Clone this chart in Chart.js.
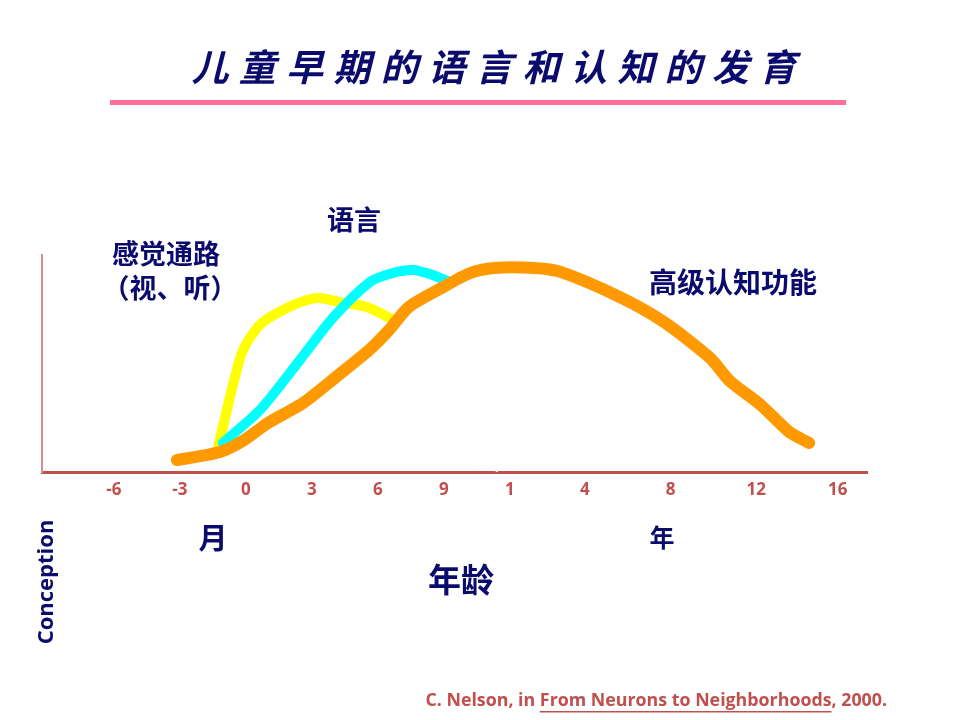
<!DOCTYPE html>
<html>
<head>
<meta charset="utf-8">
<script src="https://cdn.jsdelivr.net/npm/chart.js@4/dist/chart.umd.min.js"></script>
<style>
  html, body { margin: 0; padding: 0; background: #fff; }
  #wrap { width: 960px; height: 720px; }
</style>
</head>
<body>
<div id="wrap"><canvas id="devChart" width="960" height="720"></canvas></div>
<script>
// Axis: months before/after birth, then years (axis is compressed after 1 year)
const tickLabels = ["-6", "-3", "0", "3", "6", "9", "1", "4", "8", "12", "16"];
const tickPos = [-6, -3, 0, 3, 6, 9, 12, 15.4, 19.3, 23.2, 26.9];

// 感觉通路 (sensory pathways)
const sensoryAge = [-1.27, -0.27, 0.18, 0.77, 1.86, 2.77, 3.36, 4.27, 5.5, 6.55];
const sensoryLevel = [11.5, 52.5, 61.8, 69.1, 75.6, 79.3, 80.2, 78.3, 76.0, 71.0];

// 语言 (language)
const languageAge = [-1.05, 0.64, 2.45, 3.95, 5.64, 6.68, 7.59, 8.36, 9.27];
const languageLevel = [13.4, 28.6, 51.6, 71.0, 87.6, 91.7, 93.1, 91.2, 87.6];

// 高级认知功能 (higher cognitive function)
const cognitionAge = [-3.14, -1.18, -0.14, 1.0, 2.6, 4.1, 5.6, 6.5, 7.4, 8.8, 10.2, 11.3, 13.1, 14.3, 17.0, 19.0, 21.1, 22.0, 23.4, 24.7, 25.6];
const cognitionLevel = [5.5, 9.2, 14.3, 22.6, 31.8, 43.8, 56.2, 65.4, 76.0, 84.3, 91.7, 94.0, 94.0, 92.2, 80.6, 69.1, 52.5, 41.9, 30.9, 18.4, 13.4];

const NAVY = "#0b0b6e";
const RED = "#C0504D";

function zip(xs, ys) {
  return xs.map((x, i) => ({ x: x, y: ys[i] }));
}

// Text, title bar and notes drawn around the plot
const decorations = {
  id: "decorations",
  afterDraw(chart) {
    const ctx = chart.ctx;
    ctx.save();

    // title, one glyph at a time for the wide spacing
    const title = "儿童早期的语言和认知的发育";
    ctx.fillStyle = NAVY;
    ctx.font = "italic bold 37px 'Noto Sans CJK SC'";
    ctx.textAlign = "center";
    ctx.textBaseline = "middle";
    for (let i = 0; i < title.length; i++) {
      ctx.fillText(title[i], 210 + i * 47.3, 67);
    }

    // pink rule under title
    ctx.fillStyle = "#FF6E9A";
    ctx.fillRect(110, 100, 736, 5);

    // curve labels
    ctx.fillStyle = NAVY;
    ctx.font = "bold 27px 'Noto Sans CJK SC'";
    ctx.fillText("语言", 354, 220);
    ctx.fillText("感觉通路", 166, 254);
    ctx.fillText("（视、听）", 170, 288);
    ctx.font = "bold 28px 'Noto Sans CJK SC'";
    ctx.fillText("高级认知功能", 733, 282);

    // unit labels
    ctx.font = "bold 29px 'Noto Sans CJK SC'";
    ctx.fillText("月", 213, 538);
    ctx.font = "bold 25px 'Noto Sans CJK SC'";
    ctx.fillText("年", 662, 537);
    ctx.font = "bold 33px 'Noto Sans CJK SC'";
    ctx.fillText("年龄", 461, 579);

    // Conception, vertical
    ctx.save();
    ctx.translate(47, 582);
    ctx.rotate(-Math.PI / 2);
    ctx.font = "bold 22px 'Open Sans'";
    ctx.fillText("Conception", 0, 0);
    ctx.restore();

    // citation with underlined book title, sized to span 425..887
    const parts = ["C. Nelson, in ", "From Neurons to Neighborhoods", ", 2000."];
    let size = 16;
    ctx.font = "bold " + size + "px 'Open Sans'";
    const base = ctx.measureText(parts.join("")).width;
    size = size * 462 / base;
    ctx.font = "bold " + size.toFixed(2) + "px 'Open Sans'";
    ctx.fillStyle = RED;
    ctx.textAlign = "left";
    const widths = parts.map(p => ctx.measureText(p).width);
    const total = widths.reduce((a, b) => a + b, 0);
    let x = 887 - total;
    ctx.fillText(parts[0], x, 701);
    x += widths[0];
    ctx.fillText(parts[1], x, 701);
    ctx.fillRect(x, 711, widths[1], 1.5);
    x += widths[1];
    ctx.fillText(parts[2], x, 701);

    // small notch where months turn to years
    const xs = chart.scales.x;
    ctx.fillStyle = "#fff";
    ctx.fillRect(xs.getPixelForValue(11.4) - 1, xs.top - 3, 2, 3);

    ctx.restore();
  }
};

new Chart(document.getElementById("devChart"), {
  type: "line",
  data: {
    datasets: [
      {
        label: "高级认知功能",
        data: zip(cognitionAge, cognitionLevel),
        borderColor: "#FF9900",
        borderWidth: 12,
        order: 0
      },
      {
        label: "语言",
        data: zip(languageAge, languageLevel),
        borderColor: "#00FFFF",
        borderWidth: 10,
        order: 1
      },
      {
        label: "感觉通路",
        data: zip(sensoryAge, sensoryLevel),
        borderColor: "#FFFF00",
        borderWidth: 10,
        order: 2
      }
    ]
  },
  options: {
    responsive: false,
    animation: false,
    devicePixelRatio: 1,
    layout: { padding: { left: 42, top: 255, right: 93, bottom: 208 } },
    elements: {
      point: { radius: 0 },
      line: { tension: 0.25, borderCapStyle: "round", borderJoinStyle: "round", fill: false }
    },
    datasets: { line: { clip: false } },
    plugins: {
      legend: { display: false },
      tooltip: { enabled: false }
    },
    scales: {
      x: {
        type: "linear",
        min: -9.27,
        max: 28.23,
        grid: { display: false, drawTicks: false },
        border: { color: RED, width: 3 },
        afterBuildTicks: (scale) => { scale.ticks = tickPos.map(v => ({ value: v })); },
        afterFit: (scale) => { scale.height = 40; },
        ticks: {
          autoSkip: false,
          maxRotation: 0,
          padding: 8,
          color: RED,
          font: { family: "'Liberation Sans Narrow', 'Open Sans'", size: 17, weight: "bold" },
          callback: (value, index) => tickLabels[index]
        }
      },
      y: {
        min: 0,
        max: 100,
        grid: { display: false, drawTicks: false },
        border: { color: "#d98c8a", width: 2 },
        ticks: { display: false },
        afterFit: (scale) => { scale.width = 0; }
      }
    }
  },
  plugins: [decorations]
});
</script>
</body>
</html>
